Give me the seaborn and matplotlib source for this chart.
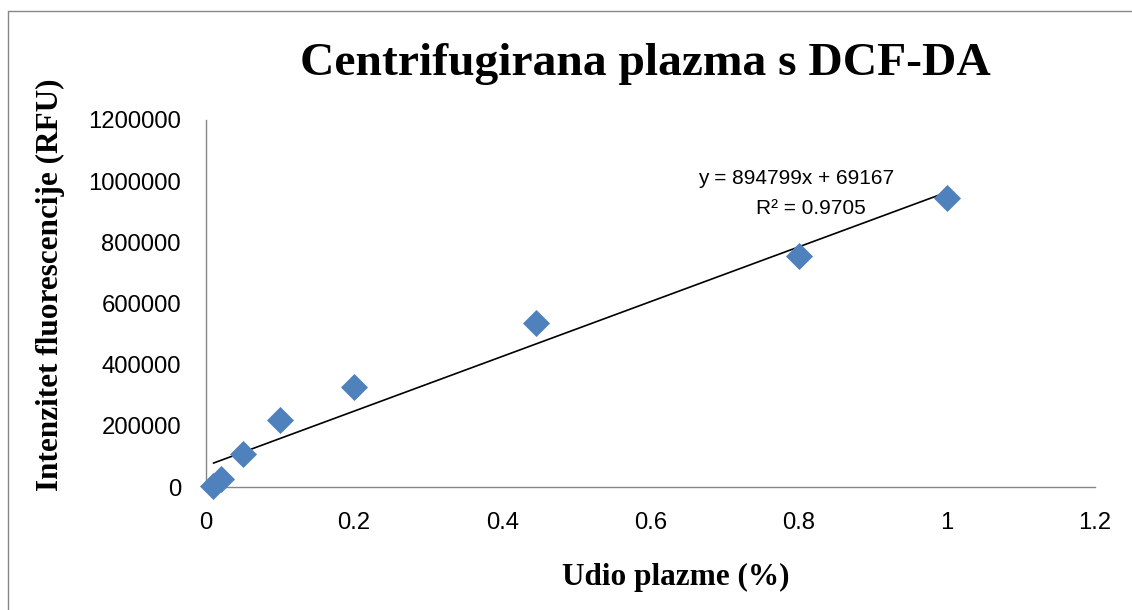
import matplotlib
matplotlib.use("Agg")
import matplotlib.pyplot as plt
import seaborn as sns
import numpy as np
import pandas as pd
from matplotlib.lines import Line2D

# Data
udio_plazme = [0.01, 0.02, 0.05, 0.1, 0.2, 0.445, 0.8, 1.0]
intenzitet = [2000, 26000, 108000, 219000, 328000, 535000, 755000, 946000]
slope = 894799
intercept = 69167
r2 = 0.9705
x_ticks = [0, 0.2, 0.4, 0.6, 0.8, 1, 1.2]
x_tick_labels = ["0", "0.2", "0.4", "0.6", "0.8", "1", "1.2"]
y_ticks = [0, 200000, 400000, 600000, 800000, 1000000, 1200000]
y_tick_labels = ["0", "200000", "400000", "600000", "800000", "1000000", "1200000"]

df = pd.DataFrame({"x": udio_plazme, "y": intenzitet})

sns.set_style("white")
plt.rcParams["font.family"] = ["Liberation Sans", "DejaVu Sans"]
plt.rcParams["text.color"] = "black"
plt.rcParams["axes.labelcolor"] = "black"

fig = plt.figure(figsize=(11.32, 6.10), dpi=100)
ax = fig.add_axes([206 / 1132, 1 - 487 / 610, (1095 - 206) / 1132, (487 - 120) / 610])

sns.scatterplot(data=df, x="x", y="y", ax=ax, marker="D", s=190,
                color="#4F81BD", linewidth=0, zorder=3, clip_on=False)

xl = np.array([min(udio_plazme), max(udio_plazme)])
ax.plot(xl, slope * xl + intercept, color="black", lw=1.2, zorder=2)

ax.set_xlim(0, 1.2)
ax.set_ylim(0, 1200000)
ax.set_xticks(x_ticks)
ax.set_xticklabels(x_tick_labels)
ax.set_yticks(y_ticks)
ax.set_yticklabels(y_tick_labels)
ax.set_xlabel("")
ax.set_ylabel("")

for s in ["top", "right"]:
    ax.spines[s].set_visible(False)
for s in ["left", "bottom"]:
    ax.spines[s].set_color("#868686")
    ax.spines[s].set_linewidth(1.0)
ax.tick_params(axis="both", which="major", direction="out", length=6,
               width=1.0, color="#868686", labelsize=17.2, labelcolor="black")
ax.tick_params(axis="x", pad=12)
ax.tick_params(axis="y", pad=12)

serif = ["Liberation Serif", "DejaVu Serif"]
fig.text(676 / 1132, 1 - 577 / 610, "Udio plazme (%)", ha="center", va="center",
         fontsize=22.5, fontweight="bold", family=serif, color="black")
fig.text(50 / 1132, 1 - 285 / 610, "Intenzitet fluorescencije (RFU)", ha="center",
         va="center", rotation=90, fontsize=22.5, fontweight="bold", family=serif,
         color="black")

fig.text(645 / 1132, 1 - 64 / 610, "Centrifugirana plazma s DCF-DA",
         ha="center", va="center", fontsize=34.2, fontweight="bold",
         family=serif, color="black")

ax.text(0.796, 1010000, f"y = {slope}x + {intercept}", ha="center", va="center",
        fontsize=15, color="black")
ax.text(0.816, 909000, f"R² = {r2}", ha="center", va="center", fontsize=15,
        color="black")

# chart border
fig.add_artist(Line2D([8 / 1132, 8 / 1132], [0, 1 - 11 / 610], color="#868686",
                      lw=1.0, transform=fig.transFigure))
fig.add_artist(Line2D([8 / 1132, 1], [1 - 11 / 610, 1 - 11 / 610], color="#868686",
                      lw=1.0, transform=fig.transFigure))

fig.savefig("out.png", dpi=100)
